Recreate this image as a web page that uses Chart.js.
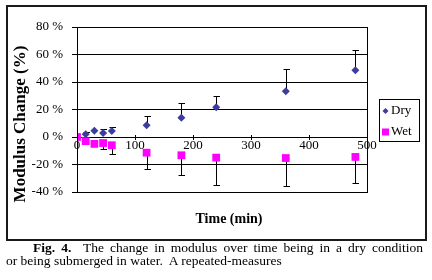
<!DOCTYPE html>
<html>
<head>
<meta charset="utf-8">
<script src="https://cdn.jsdelivr.net/npm/chart.js@4/dist/chart.umd.min.js"></script>
<style>
  body { margin: 0; background: #fff; width: 432px; height: 280px; overflow: hidden; position: relative; }
  #frame { position: absolute; left: 6px; top: 5px; width: 417px; height: 232px; border: 2px solid #1a1a1a; pointer-events: none; }
  #chart { position: absolute; left: 0; top: 0; }
  .cap { position: absolute; font-family: "Liberation Serif", serif; font-size: 13.5px; color: #000; white-space: nowrap; line-height: 13px; }
  .just { text-align: justify; text-align-last: justify; white-space: normal; }
</style>
</head>
<body>
<canvas id="chart" width="432" height="242"></canvas>
<div id="frame"></div>
<div class="cap just" style="left:33px; top:241px; width:390px;"><b>Fig. 4.</b>&nbsp; The change in modulus over time being in a dry condition</div>
<div class="cap" style="left:6px; top:254px;">or being submerged in water.&nbsp; A repeated-measures</div>
<script>
// time points (min)
var dryTimes = [15, 30, 45, 60, 120, 180, 240, 360, 480];
var dryValues = [2, 4.6, 2.9, 4.4, 8.5, 14, 21.6, 33.3, 48.5];
var dryErrUp = [2, 0, 2.7, 3, 7, 10.5, 8.5, 16, 15];

var wetTimes = [0, 15, 30, 45, 60, 120, 180, 240, 360, 480];
var wetValues = [0, -3, -5, -4.4, -6, -11.4, -13.3, -15, -15.3, -14.5];
var wetErrDown = [0, 0, 1.8, 4, 6, 12, 14.6, 20, 20.6, 19.2];

var xTicks = [0, 100, 200, 300, 400, 500];
var yMin = -40, yMax = 80, yStep = 20;

var serif = '"Liberation Serif", "Times New Roman", serif';

function toPoints(xs, ys) {
    return xs.map(function (x, i) {
        return { x: x, y: ys[i] };
    });
}

// error bars, box, x axis at zero, titles and legend
var extras = {
    id: 'extras',
    beforeDatasetsDraw: function (chart) {
        var ctx = chart.ctx;
        var xs = chart.scales.x, ys = chart.scales.y;
        ctx.save();
        ctx.strokeStyle = '#000';
        ctx.lineWidth = 1;
        function bar(t, v, e) {
            if (!e) return;
            var px = Math.round(xs.getPixelForValue(t)) + 0.5;
            var p0 = ys.getPixelForValue(v);
            var p1 = Math.round(ys.getPixelForValue(v + e)) + 0.5;
            ctx.beginPath();
            ctx.moveTo(px, p0);
            ctx.lineTo(px, p1);
            ctx.moveTo(px - 3, p1);
            ctx.lineTo(px + 3.5, p1);
            ctx.stroke();
        }
        dryTimes.forEach(function (t, i) { bar(t, dryValues[i], dryErrUp[i]); });
        wetTimes.forEach(function (t, i) { bar(t, wetValues[i], -wetErrDown[i]); });
        ctx.restore();
    },
    afterDraw: function (chart) {
        var ctx = chart.ctx;
        var a = chart.chartArea;
        var xs = chart.scales.x, ys = chart.scales.y;
        ctx.save();
        ctx.strokeStyle = '#000';
        ctx.lineWidth = 1;
        ctx.strokeRect(Math.round(a.left) + 0.5, Math.round(a.top) + 0.5, Math.round(a.right - a.left), Math.round(a.bottom - a.top));

        // x axis crossing at y = 0
        var y0 = Math.round(ys.getPixelForValue(0)) + 0.5;
        ctx.beginPath();
        xTicks.forEach(function (t) {
            var px = Math.round(xs.getPixelForValue(t)) + 0.5;
            ctx.moveTo(px, y0 - 2.5);
            ctx.lineTo(px, y0 + 2.5);
        });
        ctx.stroke();
        ctx.fillStyle = '#000';
        ctx.font = '13px ' + serif;
        ctx.textAlign = 'center';
        ctx.textBaseline = 'top';
        xTicks.forEach(function (t) {
            ctx.fillText(String(t), xs.getPixelForValue(t), y0 + 2);
        });

        // axis titles
        ctx.font = 'bold 14px ' + serif;
        ctx.textBaseline = 'middle';
        ctx.fillText('Time (min)', 229, 219);
        ctx.save();
        ctx.translate(21, 124);
        ctx.rotate(-Math.PI / 2);
        ctx.font = 'bold 17px ' + serif;
        ctx.fillText('Modulus Change (%)', 0, 0);
        ctx.restore();

        // legend
        ctx.strokeRect(379.5, 99.5, 40, 42);
        ctx.font = '13px ' + serif;
        ctx.textAlign = 'left';
        chart.data.datasets.forEach(function (ds, i) {
            var ly = 111 + i * 21;
            ctx.fillStyle = ds.backgroundColor;
            ctx.beginPath();
            if (ds.pointStyle === 'rectRot') {
                ctx.moveTo(385.5 - 3, ly);
                ctx.lineTo(385.5, ly - 3);
                ctx.lineTo(385.5 + 3, ly);
                ctx.lineTo(385.5, ly + 3);
                ctx.closePath();
            } else {
                ctx.rect(382, ly - 3.5, 7, 7);
            }
            ctx.fill();
            ctx.fillStyle = '#000';
            ctx.fillText(ds.label, 391, ly);
        });
        ctx.restore();
    }
};

var ctx = document.getElementById('chart').getContext('2d');
var chart = new Chart(ctx, {
    type: 'scatter',
    data: {
        datasets: [{
            label: 'Dry',
            data: toPoints(dryTimes, dryValues),
            pointStyle: 'rectRot',
            pointRadius: 4,
            backgroundColor: '#3d3d9e',
            borderColor: '#3d3d9e',
            borderWidth: 0
        }, {
            label: 'Wet',
            data: toPoints(wetTimes, wetValues),
            pointStyle: 'rect',
            pointRadius: 5.5,
            backgroundColor: '#ff00ff',
            borderColor: '#ff00ff',
            borderWidth: 0
        }]
    },
    options: {
        responsive: false,
        animation: false,
        layout: { padding: { left: 0, top: 27, right: 65, bottom: 0 } },
        plugins: {
            legend: { display: false },
            tooltip: { enabled: false }
        },
        scales: {
            x: {
                type: 'linear',
                min: 0,
                max: 500,
                grid: { display: false },
                border: { display: false },
                ticks: { display: false },
                afterFit: function (scale) { scale.height = 50; }
            },
            y: {
                min: yMin,
                max: yMax,
                grid: { color: '#000', lineWidth: 1, tickLength: 5, tickColor: '#000' },
                border: { display: true, color: '#000' },
                ticks: {
                    stepSize: yStep,
                    padding: 9,
                    color: '#000',
                    font: { family: serif, size: 13 },
                    callback: function (v) { return v + ' %'; }
                },
                afterFit: function (scale) { scale.width = 77; }
            }
        }
    },
    plugins: [extras]
});
</script>
</body>
</html>
